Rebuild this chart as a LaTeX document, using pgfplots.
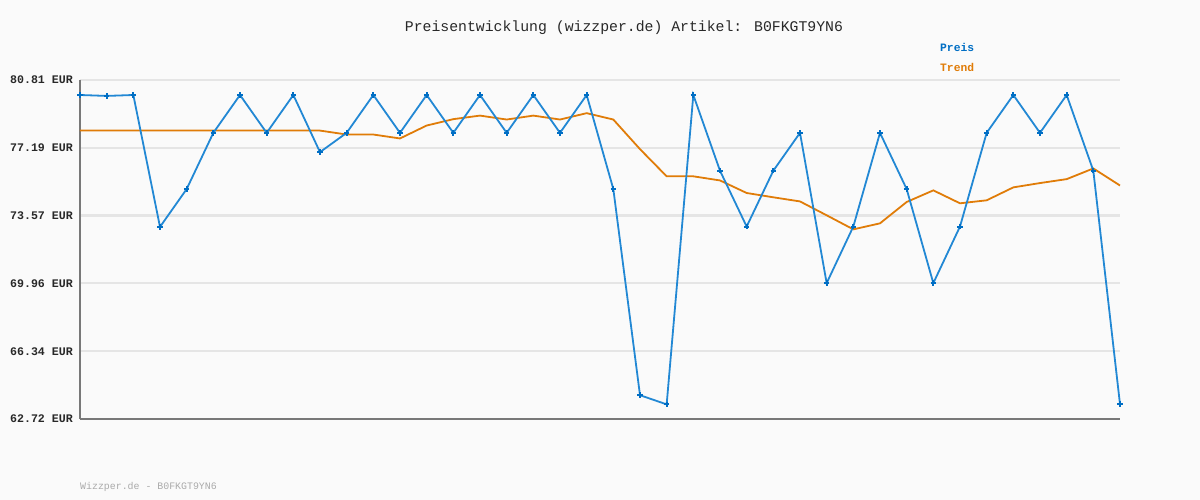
\documentclass[border=0pt]{standalone}
\usepackage{pgfplots}
\pgfplotsset{compat=1.18}
\usepackage{fontspec}
\setmainfont{Liberation Mono}
\definecolor{bg}{RGB}{250,250,250}
\definecolor{preis}{RGB}{34,136,212}
\definecolor{preismark}{RGB}{0,110,196}
\definecolor{trend}{RGB}{224,124,8}
\definecolor{gridc}{RGB}{229,229,229}
\definecolor{axc}{RGB}{120,120,120}
\definecolor{txt}{RGB}{40,40,40}
\begin{document}
\begin{tikzpicture}[x=1pt,y=1pt]
\fill[bg] (0,0) rectangle (1200,500);
\begin{axis}[
  at={(80pt,81pt)}, anchor=south west,
  scale only axis, width=1040pt, height=339pt,
  xmin=0, xmax=39, ymin=62.72, ymax=80.81,
  clip=false,
  axis x line=bottom, axis y line=left,
  axis line style={draw=axc, line width=2.2pt, -},
  xtick=\empty,
  ytick={62.72,66.338,69.956,73.574,77.192,80.81},
  yticklabels={62.72 EUR,66.34 EUR,69.96 EUR,73.57 EUR,77.19 EUR,80.81 EUR},
  yticklabel style={font=\fontsize{11.6}{12}\selectfont\bfseries, text=txt, anchor=east, inner sep=0pt, xshift=-7pt},
  major tick length=0pt,
  ymajorgrids, grid style={draw=gridc, line width=2.2pt},
  axis background/.style={fill=bg},
]
\addplot[trend, line width=1.8pt] coordinates {
(0,78.11)(1,78.11)(2,78.11)(3,78.11)(4,78.11)(5,78.11)(6,78.11)(7,78.11)(8,78.11)(9,78.11)
(10,77.90)(11,77.90)(12,77.69)(13,78.38)(14,78.72)(15,78.91)(16,78.70)(17,78.91)(18,78.70)(19,79.04)
(20,78.70)(21,77.12)(22,75.67)(23,75.67)(24,75.45)(25,74.78)(26,74.55)(27,74.33)(28,73.59)(29,72.84)
(30,73.16)(31,74.30)(32,74.92)(33,74.23)(34,74.39)(35,75.08)(36,75.31)(37,75.52)(38,76.09)(39,75.18)
};
\addplot[preis, line width=1.8pt, mark=+, mark size=2.8pt, mark options={preismark, line width=2pt}] coordinates {
(0,80.01)(1,79.96)(2,80.01)(3,72.97)(4,74.99)(5,77.99)(6,80.01)(7,77.99)(8,80.01)(9,76.96)
(10,77.99)(11,80.01)(12,77.99)(13,80.01)(14,77.99)(15,80.01)(16,77.99)(17,80.01)(18,77.99)(19,80.01)
(20,74.99)(21,63.99)(22,63.50)(23,80.01)(24,75.97)(25,72.99)(26,75.97)(27,77.99)(28,69.97)(29,72.99)
(30,77.99)(31,74.99)(32,69.97)(33,72.99)(34,77.99)(35,80.01)(36,77.99)(37,80.01)(38,75.97)(39,63.51)
};
\end{axis}
\node[text=txt, font=\fontsize{14.8}{16}\selectfont] at (624,472) {Preisentwicklung (wizzper.de) Artikel: B0FKGT9YN6};
\node[anchor=west, inner sep=0pt, text=preismark, font=\fontsize{11.3}{12}\selectfont\bfseries] at (940,453) {Preis};
\node[anchor=west, inner sep=0pt, text=trend, font=\fontsize{11.3}{12}\selectfont\bfseries] at (940,433) {Trend};
\node[anchor=west, inner sep=0pt, text={rgb,255:red,170;green,170;blue,170}, font=\fontsize{9.9}{11}\selectfont] at (80,13) {Wizzper.de - B0FKGT9YN6};
\end{tikzpicture}
\end{document}
